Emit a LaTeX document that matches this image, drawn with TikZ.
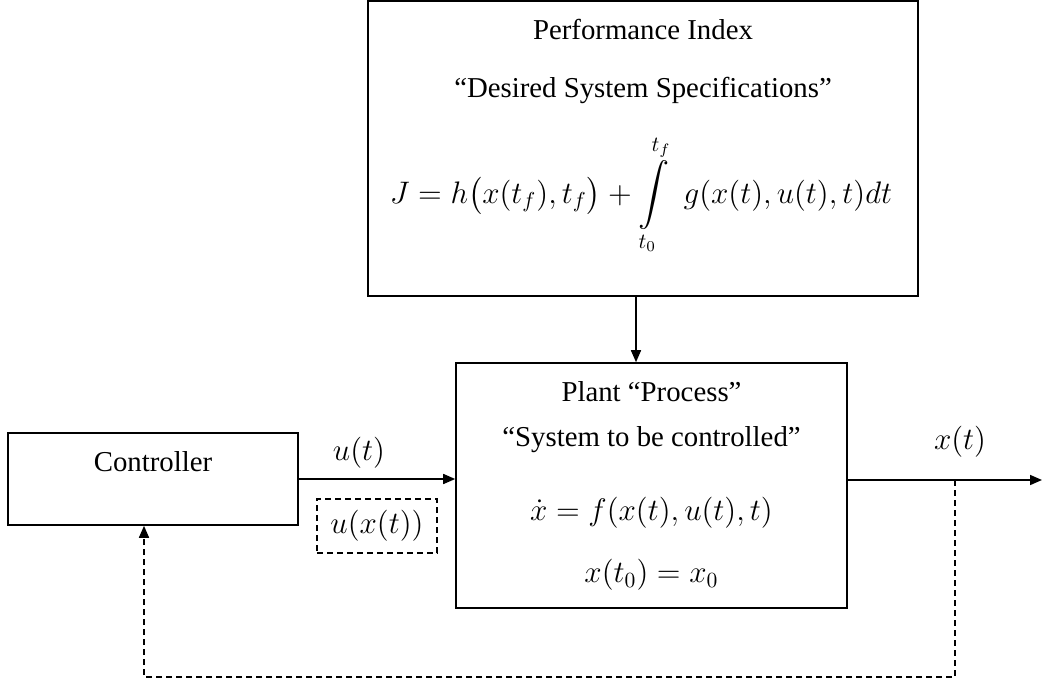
\documentclass[tikz,border=0pt]{standalone}
\usepackage{amsmath}
\usepackage{fontspec}
\setmainfont{Liberation Serif}
\usetikzlibrary{arrows.meta}

\begin{document}
\begin{tikzpicture}[x=0.5pt, y=-0.5pt, font=\fontsize{14.4}{17}\selectfont,
    >={Triangle[length=6pt,width=5pt]},
    block/.style={draw, thick, inner sep=0pt},
    txt/.style={inner sep=0pt},
    mtxt/.style={inner sep=0pt, scale=1.08, transform shape},
    fb/.style={thick, dash pattern=on 3pt off 2pt}]
  \useasboundingbox (0,0) rectangle (1042,684);

  % Bloques
  \node[block, minimum width=275pt, minimum height=147.5pt] (perf) at (643,148.5) {};
  \node[txt] (perfname) at (643,30) {Performance Index};
  \node[txt] (perfspec) at (643,90) {“Desired System Specifications”};
  \node[mtxt] (perfeq) at (641,195) {$\displaystyle J = h\bigl(x(t_f),t_f\bigr) + \int\limits_{t_0}^{t_f}\; g(x(t),u(t),t)dt$};

  \node[block, minimum width=145pt, minimum height=46pt] (ctrl) at (153,479) {};
  \node[txt] (ctrlname) at (153,462) {Controller};

  \node[block, minimum width=195.5pt, minimum height=122.5pt] (plant) at (651.5,485.5) {};
  \node[txt] (plantname) at (651.5,392) {Plant “Process”};
  \node[txt] (plantspec) at (651.5,440) {“System to be controlled”};
  \node[mtxt] (planteq) at (651.5,513) {$\dot{x} = f(x(t),u(t),t)$};
  \node[mtxt] (plantinit) at (651.5,575) {$x(t_0) = x_0$};

  \node[fb, draw, minimum width=60pt, minimum height=27pt, inner sep=0pt] (uxbox) at (377,526) {\scalebox{1.08}{$u(x(t))$}};
  \node[mtxt] (ulabel) at (359,453) {$u(t)$};
  \node[mtxt] (xlabel) at (960,442) {$x(t)$};

  \coordinate (outend) at (1042,480);
  \coordinate (tap) at (955,480);
  \coordinate (fbcorner) at (144,677);

  % Senales
  \draw[->, thick] (ctrl.east) -- (ctrl.east -| plant.west);
  \draw[->, thick] ([xshift=-3.5pt]perf.south) -- ([xshift=-3.5pt]perf.south |- plant.north);
  \draw[->, thick] (plant.east |- outend) -- (outend);
  \draw[->, fb] (tap) |- (fbcorner) -- (fbcorner |- ctrl.south);
\end{tikzpicture}
\end{document}
